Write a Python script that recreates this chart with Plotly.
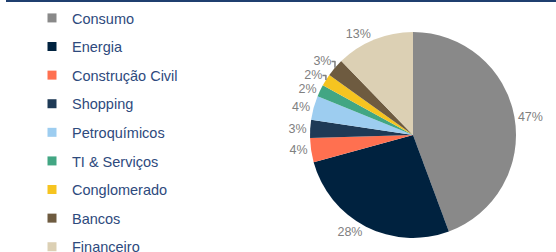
import plotly.graph_objects as go

categories = ["Consumo", "Energia", "Construção Civil", "Shopping", "Petroquímicos",
              "TI & Serviços", "Conglomerado", "Bancos", "Financeiro"]
shares = [47, 28, 4, 3, 4, 2, 2, 3, 13]
colors = ["#898989", "#00223F", "#FF7050", "#1E3A56", "#9DCDF0",
          "#42A683", "#F6C420", "#6E5B40", "#DCD0B4"]

W, H = 556, 252
FONT = "Liberation Sans, Arial, sans-serif"

fig = go.Figure()

# pie
cx, cy, r = 413, 135, 103
fig.add_trace(go.Pie(
    labels=categories, values=shares, sort=False, direction="clockwise", rotation=0,
    marker=dict(colors=colors, line=dict(width=0)),
    texttemplate="%{value}%", textposition="outside",
    textfont=dict(color="#808080", size=12.5, family=FONT),
    showlegend=False,
    domain=dict(x=[(cx - r) / W, (cx + r) / W],
                y=[1 - (cy + r) / H, 1 - (cy - r) / H]),
))

# legend entries (one per category)
for i, (name, col) in enumerate(zip(categories, colors)):
    fig.add_trace(go.Scatter(
        x=[None], y=[None], mode="markers", name=name,
        marker=dict(symbol="square", size=9, color=col),
        legendgroup=f"g{i}", showlegend=True, hoverinfo="skip",
    ))

fig.add_shape(type="rect", xref="paper", yref="paper",
              x0=6 / W, x1=1, y0=1 - 2 / H, y1=1,
              fillcolor="#1F3F6F", line=dict(width=0), layer="above")

fig.update_layout(
    width=W, height=H,
    margin=dict(l=0, r=0, t=0, b=0, pad=0, autoexpand=False),
    paper_bgcolor="white", plot_bgcolor="white",
    xaxis=dict(visible=False), yaxis=dict(visible=False),
    legend=dict(
        x=32 / W, y=1 - 2 / H, xanchor="left", yanchor="top",
        traceorder="grouped", tracegroupgap=6.75, maxheight=400,
        font=dict(family=FONT, size=14.5, color="#2E4A7D"),
        bgcolor="rgba(0,0,0,0)", borderwidth=0,
    ),
    font=dict(family=FONT),
)

fig.write_html("out.html", config={"displayModeBar": False},
               post_script="document.body.style.margin='0';")
